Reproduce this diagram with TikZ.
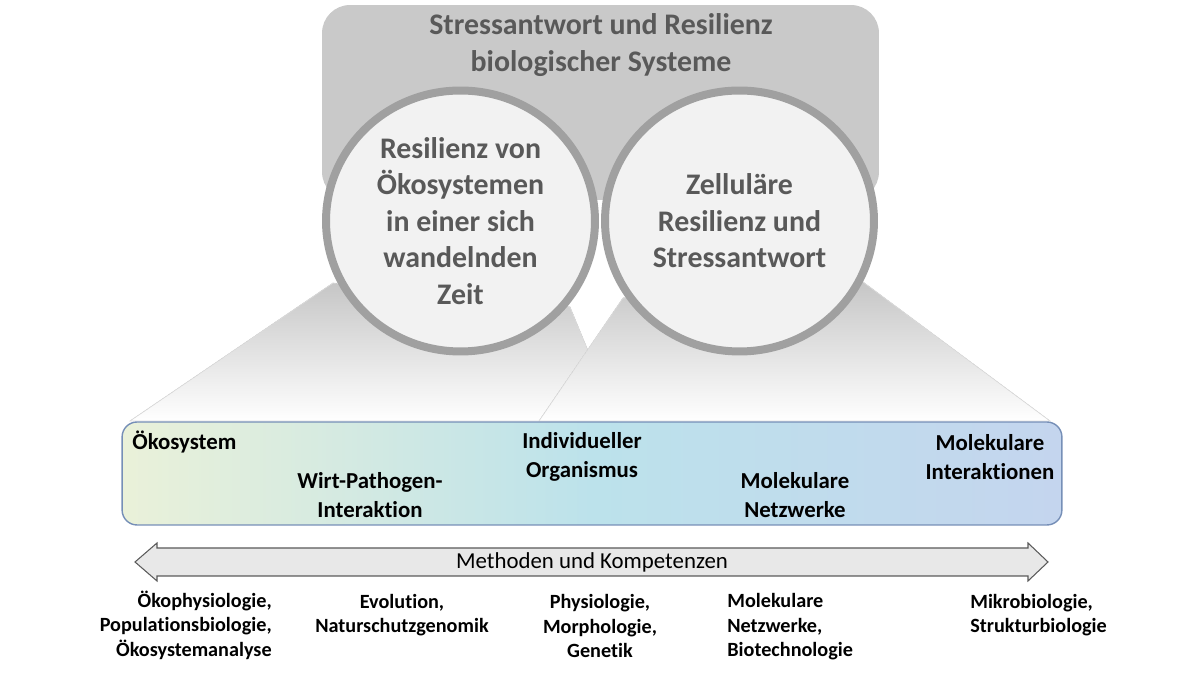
\documentclass[tikz,border=0pt]{standalone}
\usepackage{fontspec}
\setmainfont{Carlito}[Ligatures=NoCommon]
\usetikzlibrary{arrows.meta,positioning,calc,shadows,shapes.geometric}
\definecolor{titlegray}{RGB}{89,89,89}
\definecolor{boxgray}{RGB}{201,201,201}
\definecolor{ringgray}{RGB}{160,160,160}
\definecolor{circlefill}{RGB}{242,242,242}
\definecolor{fangray}{RGB}{198,198,198}
\definecolor{barblue}{RGB}{118,143,183}
\definecolor{barleft}{RGB}{234,241,217}
\definecolor{barmid}{RGB}{188,226,235}
\definecolor{barright}{RGB}{196,213,238}
\definecolor{arrowfill}{RGB}{232,232,232}
\definecolor{arrowline}{RGB}{90,90,90}

\begin{document}
\begin{tikzpicture}[x=0.02cm,y=0.02cm,
  ring/.style={ellipse,draw=ringgray,line width=0.16cm,fill=circlefill,minimum width=5.38cm,minimum height=5.22cm,inner sep=0pt,align=center,text=titlegray,font=\bfseries\fontsize{17}{20.8}\selectfont,drop shadow={shadow xshift=0pt,shadow yshift=-2pt,opacity=0.25}},
  fan/.style={top color=fangray,bottom color=white,draw=gray!25,line width=0.4pt},
  level/.style={align=center,inner sep=0pt,font=\bfseries\fontsize{13}{16.5}\selectfont},
  method/.style={inner sep=0pt,font=\bfseries\fontsize{11.5}{13.9}\selectfont}]
\useasboundingbox (0,0) rectangle (1200,675);
\node[fill=boxgray,rounded corners=0.56cm,minimum width=11.14cm,minimum height=3.9cm] (head) at (600.5,572.5) {};
\node[align=center,text=titlegray,inner sep=0pt,font=\bfseries\fontsize{17}{21}\selectfont] (title) at (601,630) {Stressantwort und Resilienz\\biologischer Systeme};

\fill[fan] (333,392) -- (130,254) -- (617,254) -- (570,368) -- cycle;
\fill[fan] (623,377) -- (539,254) -- (1050,254) -- (863,393) -- cycle;

\node[draw=barblue,line width=0.8pt,rounded corners=0.3cm,left color=barleft,right color=barright,middle color=barmid,minimum width=18.8cm,minimum height=2.06cm] (scale) at (592,201.5) {};

\node[ring] (ecores) at (460.5,454) {Resilienz von\\Ökosystemen\\in einer sich\\wandelnden\\Zeit};
\node[ring] (cellres) at (739.5,454) {Zelluläre\\Resilienz und\\Stressantwort};

\node[level,anchor=base west] (eco) at (132,225) {Ökosystem};
\node[level] (host) at (370,180) {Wirt-Pathogen-\\Interaktion};
\node[level] (org) at (582,218) {Individueller\\Organismus};
\node[level] (net) at (795,180) {Molekulare\\Netzwerke};
\node[level] (mol) at (990,218) {Molekulare\\Interaktionen};

\draw[draw=arrowline,fill=arrowfill,line width=0.6pt] (135,113) -- (157,132) -- (157,127) -- (1028,127) -- (1028,132) -- (1048,113) -- (1028,94) -- (1028,99) -- (157,99) -- (157,94) -- cycle;
\node[font=\fontsize{13}{16}\selectfont] (methods) at (592,113) {Methoden und Kompetenzen};

\node[method,align=right,anchor=east] (ecophys) at (272,50) {Ökophysiologie,\\Populationsbiologie,\\Ökosystemanalyse};
\node[method,align=center] (evo) at (402,60) {Evolution,\\Naturschutzgenomik};
\node[method,align=center] (physio) at (600,49) {Physiologie,\\Morphologie,\\Genetik};
\node[method,align=left,anchor=west] (molnet) at (727,48) {Molekulare\\Netzwerke,\\Biotechnologie};
\node[method,align=left,anchor=west] (micro) at (970,60) {Mikrobiologie,\\Strukturbiologie};
\end{tikzpicture}
\end{document}
